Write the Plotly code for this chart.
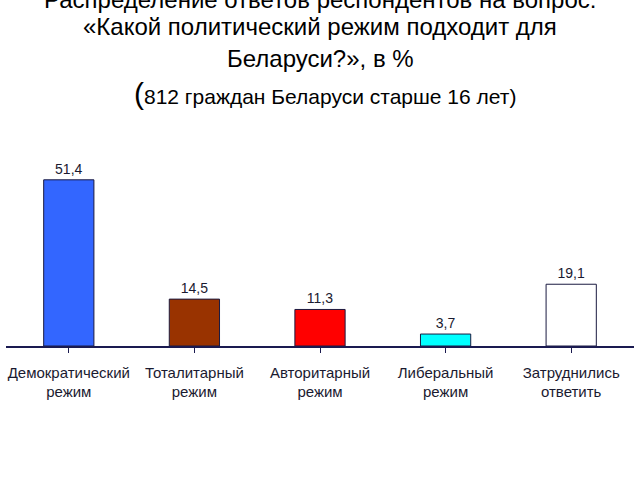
import plotly.graph_objects as go

categories = ["Демократический<br>режим", "Тоталитарный<br>режим", "Авторитарный<br>режим",
              "Либеральный<br>режим", "Затруднились<br>ответить"]
values = [51.4, 14.5, 11.3, 3.7, 19.1]
colors = ["#3366FF", "#993300", "#FF0000", "#00FFFF", "#FFFFFF"]
title_lines = ["Распределение ответов респондентов на вопрос:",
               "«Какой политический режим подходит для",
               "Беларуси?», в %"]
subtitle = "812 граждан Беларуси старше 16 лет)"

W, H = 640, 480
mt, mb, ml, mr = 152, 134, 6, 6
ph = H - mt - mb

labels = [f"{v:.1f}".replace(".", ",") for v in values]

fig = go.Figure(go.Bar(
    x=list(range(len(values))), y=values,
    marker=dict(color=colors, line=dict(color="#1a1a40", width=1)),
    width=0.4,
    text=labels, textposition="outside", cliponaxis=False,
    textfont=dict(family="Liberation Sans", size=14, color="#1a1a30"),
))

def ypaper(px):
    return (H - mb - px) / ph

annots = []
centers = [0, 26, 59]
for line, c in zip(title_lines, centers):
    annots.append(dict(text=line, xref="paper", yref="paper", x=0.5, y=ypaper(c),
                       xanchor="center", yanchor="middle", showarrow=False,
                       font=dict(family="Liberation Sans", size=24, color="#000000")))
annots.append(dict(text="<span style='font-size:30px'>(</span>" + subtitle,
                   xref="paper", yref="paper", x=(325 - ml) / (W - ml - mr), y=ypaper(93),
                   xanchor="center", yanchor="middle", showarrow=False,
                   font=dict(family="Liberation Sans", size=21, color="#000000")))

fig.update_layout(
    width=W, height=H,
    margin=dict(t=mt, b=mb, l=ml, r=mr, pad=0),
    paper_bgcolor="white", plot_bgcolor="white",
    showlegend=False,
    annotations=annots,
    xaxis=dict(tickmode="array", tickvals=list(range(len(values))), ticktext=categories,
               range=[-0.5, len(values) - 0.5],
               showline=True, linecolor="#1a1a50", linewidth=1.5,
               ticks="outside", tickson="boundaries", ticklen=5, tickcolor="#1a1a50",
               ticklabelstandoff=7,
               showgrid=False, zeroline=False,
               tickfont=dict(family="Liberation Sans", size=15, color="#1a1a30")),
    yaxis=dict(range=[0, 60], visible=False, showgrid=False),
)

fig.write_html("out.html")
